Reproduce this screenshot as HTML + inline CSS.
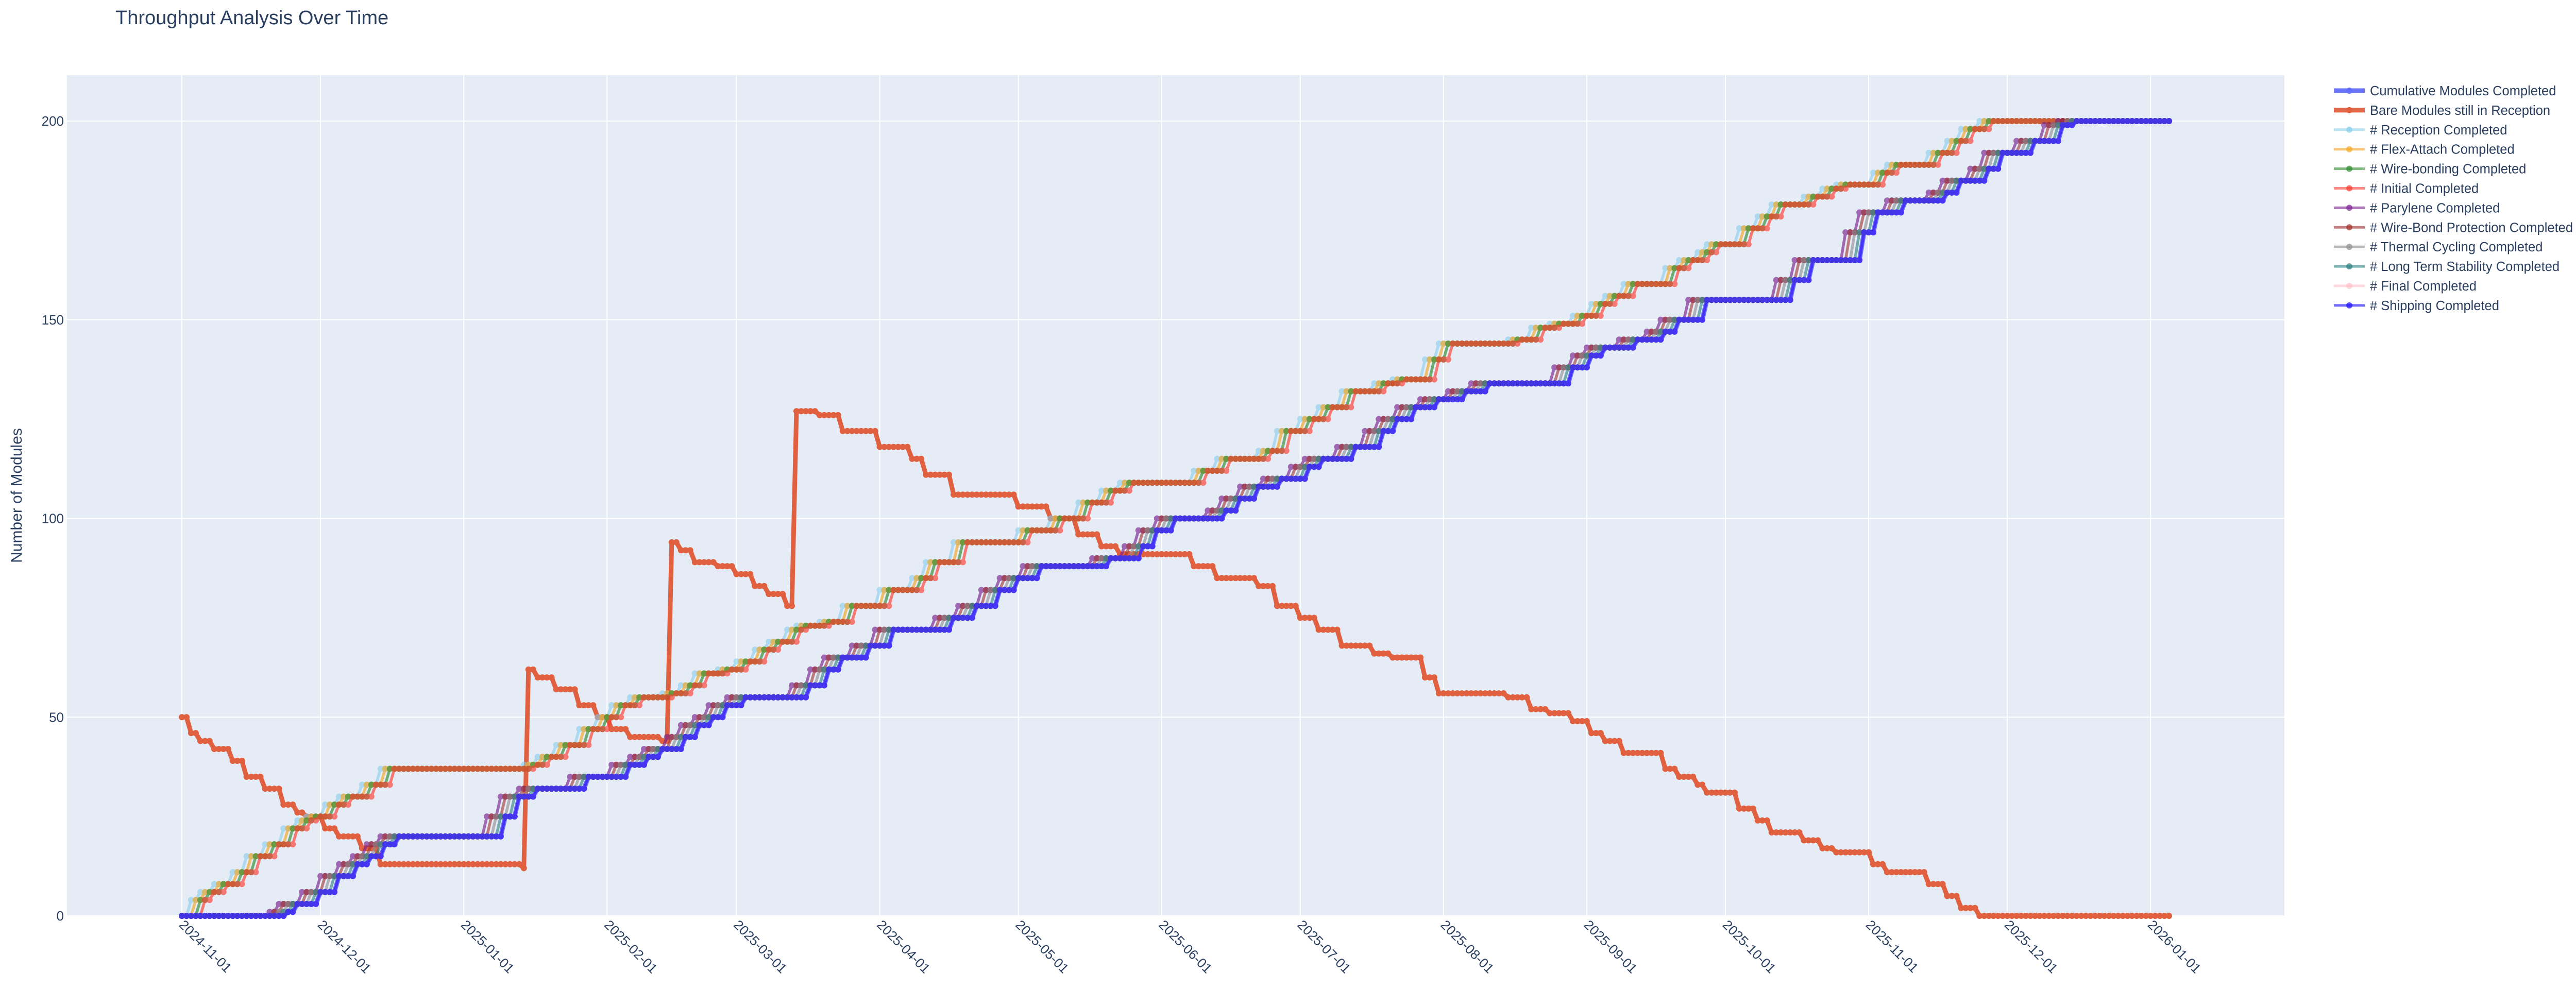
<!DOCTYPE html>
<html><head><meta charset="utf-8"><title>Throughput Analysis Over Time</title>
<style>
html,body{margin:0;padding:0;background:#fff;}
svg{display:block;font-family:"Liberation Sans","DejaVu Sans",sans-serif;}
</style></head>
<body>
<svg id="chart" width="5042" height="1920" viewBox="0 0 5042 1920" xmlns="http://www.w3.org/2000/svg">
<text x="224" y="47" font-size="38" fill="#2a3f5f">Throughput Analysis Over Time</text>
<rect x="130" y="146" width="4304" height="1632" fill="#e5ecf6"/>
<g id="grid"></g>
<g id="series"></g>
<g id="axes"></g>
<g id="legend"></g>
<text transform="translate(42,962) rotate(-90)" text-anchor="middle" font-size="30" fill="#2a3f5f">Number of Modules</text>
</svg>
<script>
// ---- data ----
const tickLabels = ["2024-11-01","2024-12-01","2025-01-01","2025-02-01","2025-03-01","2025-04-01","2025-05-01","2025-06-01","2025-07-01","2025-08-01","2025-09-01","2025-10-01","2025-11-01","2025-12-01","2026-01-01"];
const tickDays = [0,30,61,92,120,151,181,212,242,273,304,334,365,395,426];
const yTicks = [0,50,100,150,200];
const lastDay = 430;

const bareDays = [0,2,4,7,11,14,18,22,25,27,31,34,39,43,74,75,77,81,86,90,93,97,104,106,108,111,116,120,124,127,131,133,138,143,151,158,161,167,181,188,194,199,203,219,224,233,237,242,246,251,258,262,269,272,287,292,296,301,305,308,312,321,324,328,330,337,341,344,351,355,358,366,369,378,382,385,389];
const bareValues = [50,46,44,42,39,35,32,28,26,25,22,20,17,13,12,62,60,57,53,50,47,45,44,94,92,89,88,86,83,81,78,127,126,122,118,115,111,106,103,100,96,93,91,88,85,83,78,75,72,68,66,65,60,56,55,52,51,49,46,44,41,37,35,33,31,27,24,21,19,17,16,13,11,8,5,2,0];

const receptionDays = [0,2,4,7,11,14,18,22,25,27,31,34,39,43,74,77,81,86,90,93,97,104,108,111,116,120,124,127,131,133,138,143,151,158,161,167,181,188,194,199,203,219,224,233,237,242,246,251,258,262,269,272,287,292,296,301,305,308,312,321,324,328,330,337,341,344,351,355,358,366,369,378,382,385,389];
const receptionValues = [0,4,6,8,11,15,18,22,24,25,28,30,33,37,38,40,43,47,50,53,55,56,58,61,62,64,67,69,72,73,74,78,82,85,89,94,97,100,104,107,109,112,115,117,122,125,128,132,134,135,140,144,145,148,149,151,154,156,159,163,165,167,169,173,176,179,181,183,184,187,189,192,195,198,200];

const shippingDays = [0,23,25,30,34,38,41,44,47,70,73,77,88,97,101,104,109,112,115,118,122,136,140,143,149,154,167,172,177,181,186,201,208,211,215,226,229,233,238,244,247,254,260,263,267,272,278,283,301,305,308,315,321,324,330,349,353,364,367,373,382,385,391,394,401,407,410];
const shippingValues = [0,1,3,6,10,13,15,18,20,25,30,32,35,38,40,42,45,48,50,53,55,58,62,65,68,72,75,78,82,85,88,90,93,97,100,102,105,108,110,113,115,118,122,125,128,130,132,134,138,141,143,145,147,150,155,160,165,172,177,180,182,185,188,192,195,199,200];

const seriesNames = ["Cumulative Modules Completed","Bare Modules still in Reception","# Reception Completed","# Flex-Attach Completed","# Wire-bonding Completed","# Initial Completed","# Parylene Completed","# Wire-Bond Protection Completed","# Thermal Cycling Completed","# Long Term Stability Completed","# Final Completed","# Shipping Completed"];
const seriesLag = [0,0,0,1,2,3,-4,-3,-2,-1,0,0];

// ---- styles ----
const colors = ["#636efa","#e0603f","#87ceeb","#f5a623","#2e8b2e","#ff3b30","#7b1f8f","#a0302a","#8c8c8c","#2a8080","#ffc0cb","#1a0aff"];
const opac = [0.95,1,0.6,0.65,0.65,0.65,0.65,0.6,0.6,0.6,0.5,0.7];
const widths = [9,9,5.5,5.5,5.5,5.5,5.5,5.5,5.5,5.5,5.5,5.5];

const X0=353, PXDAY=8.97, Y0=1778, PXV=7.715;
const xS = d => X0 + d*PXDAY;
const yS = v => Y0 - v*PXV;
const NS="http://www.w3.org/2000/svg";
function mk(tag, attrs, parent){const e=document.createElementNS(NS,tag);for(const k in attrs)e.setAttribute(k,attrs[k]);parent.appendChild(e);return e;}

const grid=document.getElementById('grid');
yTicks.forEach(v=>{const l=mk('line',{x1:130,x2:4434,y1:yS(v),y2:yS(v),stroke:'#fff','stroke-width':2},grid);

});
tickDays.forEach(d=>{const l=mk('line',{x1:xS(d),x2:xS(d),y1:146,y2:1778,stroke:'#fff','stroke-width':2},grid);

});

const axes=document.getElementById('axes');
yTicks.forEach(v=>{const t=mk('text',{x:124,y:yS(v)+9,'text-anchor':'end','font-size':26,fill:'#2a3f5f'},axes);t.textContent=String(v);

});
tickDays.forEach((d,i)=>{const x=xS(d)-7,y=1797;const t=mk('text',{x:x,y:y,'font-size':26,fill:'#2a3f5f',transform:`rotate(45 ${x} ${y})`},axes);t.textContent=tickLabels[i];

});

function daily(days, vals, lag){
  const out=[];let j=0;
  for(let d=0; d<=lastDay; d++){
    const src=d-lag;
    while(j+1<days.length && days[j+1]<=src) j++;
    out.push(src<days[0]?vals[0]:vals[j]);
  }
  return out;
}
function seriesData(i){
  if(i===1) return daily(bareDays,bareValues,0);
  if(i>=2 && i<=5) return daily(receptionDays,receptionValues,seriesLag[i]);
  return daily(shippingDays,shippingValues,seriesLag[i]);
}
const sg=document.getElementById('series');
const order=[0,1,2,3,4,5,6,7,8,9,10,11];
order.forEach(i=>{
  const vals=seriesData(i);
  const g=mk('g',{opacity:opac[i]},sg);
  
  
  let d='';vals.forEach((v,k)=>{d+=(k?'L':'M')+xS(k).toFixed(1)+' '+yS(v).toFixed(1);});
  const p=mk('path',{d:d,fill:'none',stroke:colors[i],'stroke-width':widths[i],'stroke-linejoin':'round'},g);
  
  
  vals.forEach((v,k)=>{const c=mk('circle',{cx:xS(k).toFixed(1),cy:yS(v).toFixed(1),r:6,fill:colors[i]},g);
    
    });
});

const lg=document.getElementById('legend');
seriesNames.forEach((n,i)=>{
  const y=176+i*37.9;
  const g=mk('g',{},lg);
  
  
  mk('line',{x1:4530,x2:4590,y1:y,y2:y,stroke:colors[i],'stroke-width':i<2?9:5,opacity:i<2?0.95:0.6},g);
  mk('circle',{cx:4560,cy:y,r:6,fill:colors[i],opacity:i<2?1:0.7},g);
  const t=mk('text',{x:4600,y:y+9,'font-size':25.5,fill:'#2a3f5f'},g);t.textContent=n;
});
</script>
</body></html>
